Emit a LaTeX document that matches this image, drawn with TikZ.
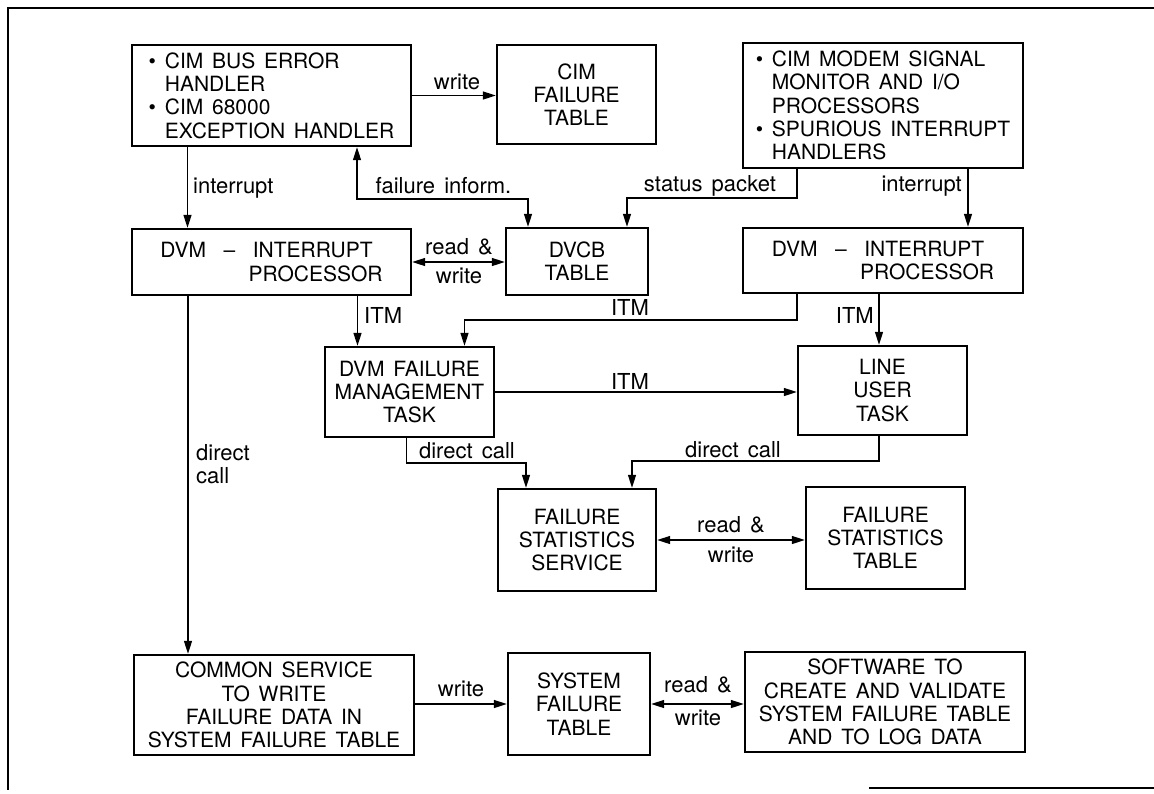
\documentclass[tikz,border=0pt]{standalone}
\usepackage{fontspec}
\setmainfont{TeX Gyre Heros}[WordSpace=1.5]
\usetikzlibrary{arrows.meta}
\begin{document}
\begin{tikzpicture}[x=1pt,y=-1pt,
  box/.style={draw, line width=2.4pt, inner sep=0pt, align=center, font=\fontsize{21}{23.3}\selectfont},
  tip/.tip={Triangle[length=13pt,width=8pt]},
  arr/.style={line width=1.4pt, -tip},
  darr/.style={line width=1.4pt, tip-tip},
  lbl/.style={font=\fontsize{22}{23}\selectfont, inner sep=0pt},
  frame/.style={line width=1.2pt}
]
\useasboundingbox (0,0) rectangle (1154,793);

% frame
\draw[frame] (1154,8) -- (8,8) -- (8,790);
\draw[frame] (869,788) -- (1154,788);

% boxes
\node[box, align=left, minimum width=279pt, minimum height=101pt] (A) at (271.5,95.5)
  {\textbullet\ CIM BUS ERROR\\\phantom{\textbullet\ }HANDLER\\\textbullet\ CIM 68000\\\phantom{\textbullet\ }EXCEPTION HANDLER};
\node[box, minimum width=159pt, minimum height=99pt] (CFT) at (576.5,94.5) {CIM\\FAILURE\\TABLE};
\node[box, align=left, minimum width=280pt, minimum height=125pt] (C) at (883,105.5)
  {\textbullet\ CIM MODEM SIGNAL\\\phantom{\textbullet\ }MONITOR AND I/O\\\phantom{\textbullet\ }PROCESSORS\\\textbullet\ SPURIOUS INTERRUPT\\\phantom{\textbullet\ }HANDLERS};
\node[box, align=left, minimum width=279pt, minimum height=66pt] (DL) at (271.5,262)
  {DVM \ -- \ INTERRUPT\\\hspace*{4.2em}PROCESSOR};
\node[box, minimum width=142pt, minimum height=67pt] (DVCB) at (577,261.5) {DVCB\\TABLE};
\node[box, align=left, minimum width=280pt, minimum height=65pt] (DR) at (883,260.5)
  {DVM \ -- \ INTERRUPT\\\hspace*{4.2em}PROCESSOR};
\node[box, minimum width=169pt, minimum height=90pt] (DFM) at (409.5,392) {DVM FAILURE\\MANAGEMENT\\TASK};
\node[box, minimum width=169pt, minimum height=89pt] (LUT) at (882.5,390.5) {LINE\\USER\\TASK};
\node[box, minimum width=158pt, minimum height=102pt] (FSS) at (577,540) {FAILURE\\STATISTICS\\SERVICE};
\node[box, minimum width=159pt, minimum height=102pt] (FST) at (885.5,538) {FAILURE\\STATISTICS\\TABLE};
\node[box, minimum width=280pt, minimum height=100pt] (CS) at (274,705)
  {COMMON SERVICE\\TO WRITE\\FAILURE DATA IN\\SYSTEM FAILURE TABLE};
\node[box, minimum width=142pt, minimum height=102pt] (SFT) at (579,704) {SYSTEM\\FAILURE\\TABLE};
\node[box, minimum width=280pt, minimum height=100pt] (SW) at (885,702)
  {SOFTWARE TO\\CREATE AND VALIDATE\\SYSTEM FAILURE TABLE\\AND TO LOG DATA};

% helper coordinates
\coordinate (x1) at (187.5,0);
\coordinate (f1) at (357,199);
\coordinate (f2) at (528,199);
\coordinate (s1) at (797,198);
\coordinate (s2) at (627,198);
\coordinate (x2) at (968,0);
\coordinate (x3) at (357.5,0);
\coordinate (i1) at (797,320);
\coordinate (i2) at (464.5,320);
\coordinate (x4) at (879,0);
\coordinate (d1) at (406.5,463);
\coordinate (d2) at (526,463);
\coordinate (e1) at (879,461);
\coordinate (e2) at (632,461);
\coordinate (x5) at (188,0);

% connectors
\draw[arr] (A.east) -- (A.east -| CFT.west);
\draw[arr] (A.south -| x1) -- (DL.north -| x1);
\draw[darr] (A.south -| f1) -- (f1) -- (f2) -- (DVCB.north -| f2);
\draw[arr] (C.south -| s1) -- (s1) -- (s2) -- (DVCB.north -| s2);
\draw[arr] (C.south -| x2) -- (DR.north -| x2);
\draw[darr] (DL.east) -- (DL.east -| DVCB.west);
\draw[arr] (DL.south -| x3) -- (DFM.north -| x3);
\draw[arr] (DR.south -| i1) -- (i1) -- (i2) -- (DFM.north -| i2);
\draw[arr] (DR.south -| x4) -- (LUT.north -| x4);
\draw[arr] (DFM.east) -- (DFM.east -| LUT.west);
\draw[arr] (DFM.south -| d1) -- (d1) -- (d2) -- (FSS.north -| d2);
\draw[arr] (LUT.south -| e1) -- (e1) -- (e2) -- (FSS.north -| e2);
\draw[darr] (FSS.east) -- (FSS.east -| FST.west);
\draw[arr] (DL.south -| x5) -- (CS.north -| x5);
\draw[arr] (CS.east |- SFT.west) -- (SFT.west);
\draw[darr] (SFT.east) -- (SFT.east -| SW.west);

% labels
\node[lbl] (l1) at (457,82) {write};
\node[lbl, anchor=west] (l2) at (193,188) {interrupt};
\node[lbl] (l3) at (443.5,186) {failure inform.};
\node[lbl] (l4) at (710,186) {status packet};
\node[lbl, anchor=east] (l5) at (962,186) {interrupt};
\node[lbl] (l6) at (459,247) {read \&};
\node[lbl] (l7) at (459,276) {write};
\node[lbl, anchor=west] (l8) at (364,315) {ITM};
\node[lbl] (l9) at (630,307) {ITM};
\node[lbl, anchor=east] (l10) at (874,315) {ITM};
\node[lbl] (l11) at (630,381) {ITM};
\node[lbl] (l12) at (467,451) {direct call};
\node[lbl] (l13) at (733,450) {direct call};
\node[lbl] (l14) at (731,525) {read \&};
\node[lbl] (l15) at (731,555) {write};
\node[lbl, anchor=north west, align=left] (l16) at (196,444) {direct\\call};
\node[lbl] (l17) at (461,689) {write};
\node[lbl] (l18) at (698,685) {read \&};
\node[lbl] (l19) at (698,718) {write};
\end{tikzpicture}
\end{document}
